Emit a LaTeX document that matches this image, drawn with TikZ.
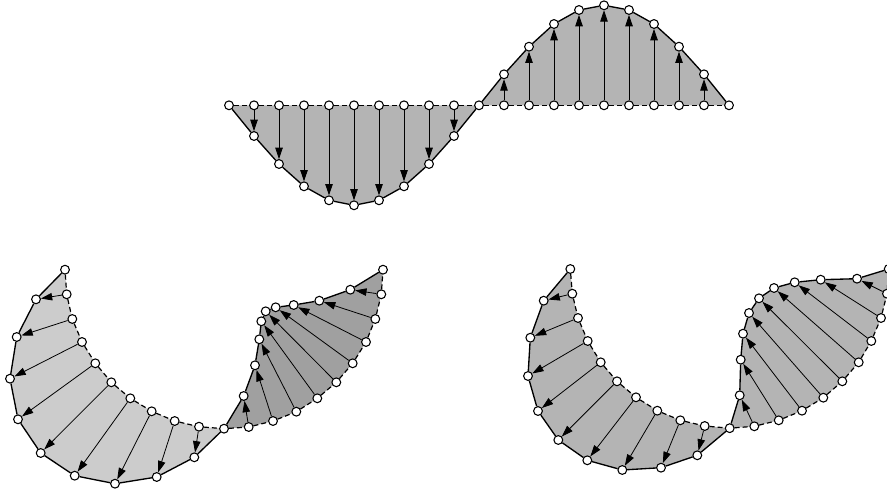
\documentclass[tikz,border=0pt]{standalone}
\usepackage{tikz}
\usetikzlibrary{arrows.meta, backgrounds}
\usepackage{xcolor}
\definecolor{MG}{RGB}{180,180,180}
\definecolor{LG}{RGB}{204,204,204}
\definecolor{DG}{RGB}{160,160,160}
\begin{document}
\begin{tikzpicture}[
  x=0.75pt, y=-0.75pt,
  pin/.style={draw=black, fill=white, circle, inner sep=0pt, line width=0.8pt, minimum size=6.6pt},
  conn/.style={draw=black, line width=0.6pt, -{Triangle[length=8.5pt,width=5.6pt]}},
  edge/.style={draw=black, line width=1pt},
  rest/.style={draw=black, line width=0.9pt, dash pattern=on 3.7pt off 2.3pt}
]
\useasboundingbox (0,0) rectangle (887,491);

% Upper wave
\node[pin] (w0) at (229,105.3) {};
\node[pin] (w1) at (254,105.3) {}; \node[pin] (v1) at (254,136) {};   \draw[conn] (w1)--(v1);
\node[pin] (w2) at (279,105.3) {}; \node[pin] (v2) at (279,164) {};   \draw[conn] (w2)--(v2);
\node[pin] (w3) at (304,105.3) {}; \node[pin] (v3) at (304,186.3) {}; \draw[conn] (w3)--(v3);
\node[pin] (w4) at (329,105.3) {}; \node[pin] (v4) at (329,200.3) {}; \draw[conn] (w4)--(v4);
\node[pin] (w5) at (354,105.3) {}; \node[pin] (v5) at (354,205.3) {}; \draw[conn] (w5)--(v5);
\node[pin] (w6) at (379,105.3) {}; \node[pin] (v6) at (379,200.3) {}; \draw[conn] (w6)--(v6);
\node[pin] (w7) at (404,105.3) {}; \node[pin] (v7) at (404,186.3) {}; \draw[conn] (w7)--(v7);
\node[pin] (w8) at (429,105.3) {}; \node[pin] (v8) at (429,164) {};   \draw[conn] (w8)--(v8);
\node[pin] (w9) at (454,105.3) {}; \node[pin] (v9) at (454,136) {};   \draw[conn] (w9)--(v9);
\node[pin] (w10) at (479,105.3) {};
\node[pin] (w11) at (504,105.3) {}; \node[pin] (v11) at (504,74.3) {}; \draw[conn] (w11)--(v11);
\node[pin] (w12) at (529,105.3) {}; \node[pin] (v12) at (529,46.7) {}; \draw[conn] (w12)--(v12);
\node[pin] (w13) at (554,105.3) {}; \node[pin] (v13) at (554,24) {};   \draw[conn] (w13)--(v13);
\node[pin] (w14) at (579,105.3) {}; \node[pin] (v14) at (579,10) {};   \draw[conn] (w14)--(v14);
\node[pin] (w15) at (604,105.3) {}; \node[pin] (v15) at (604,5.3) {};  \draw[conn] (w15)--(v15);
\node[pin] (w16) at (629,105.3) {}; \node[pin] (v16) at (629,10) {};   \draw[conn] (w16)--(v16);
\node[pin] (w17) at (654,105.3) {}; \node[pin] (v17) at (654,24) {};   \draw[conn] (w17)--(v17);
\node[pin] (w18) at (679,105.3) {}; \node[pin] (v18) at (679,46.7) {}; \draw[conn] (w18)--(v18);
\node[pin] (w19) at (704,105.3) {}; \node[pin] (v19) at (704,74.3) {}; \draw[conn] (w19)--(v19);
\node[pin] (w20) at (729,105.3) {};

% Lower left
\node[pin] (a0) at (65,269.7) {};
\node[pin] (a1) at (66.7,294.3) {}; \node[pin] (b1) at (36,299.3) {};   \draw[conn] (a1)--(b1);
\node[pin] (a2) at (72.3,319) {};   \node[pin] (b2) at (16.7,337) {};   \draw[conn] (a2)--(b2);
\node[pin] (a3) at (82,342) {};     \node[pin] (b3) at (10,378.7) {};   \draw[conn] (a3)--(b3);
\node[pin] (a4) at (95.3,363.3) {}; \node[pin] (b4) at (18,419.3) {};   \draw[conn] (a4)--(b4);
\node[pin] (a5) at (111.3,382.3) {}; \node[pin] (b5) at (40.7,453) {};  \draw[conn] (a5)--(b5);
\node[pin] (a6) at (130.3,398.3) {}; \node[pin] (b6) at (74.7,475.7) {}; \draw[conn] (a6)--(b6);
\node[pin] (a7) at (151.7,411.3) {}; \node[pin] (b7) at (115,483.7) {}; \draw[conn] (a7)--(b7);
\node[pin] (a8) at (174.7,421) {};  \node[pin] (b8) at (156.7,477) {};  \draw[conn] (a8)--(b8);
\node[pin] (a9) at (199,426.7) {};  \node[pin] (b9) at (194.3,457.3) {}; \draw[conn] (a9)--(b9);
\node[pin] (a10) at (224,428.7) {};
\node[pin] (a11) at (248.7,427) {}; \node[pin] (b11) at (243.7,396) {}; \draw[conn] (a11)--(b11);
\node[pin] (a12) at (273,421) {};   \node[pin] (b12) at (255,365.3) {}; \draw[conn] (a12)--(b12);
\node[pin] (a13) at (296.3,411.7) {}; \node[pin] (b13) at (259.3,339.3) {}; \draw[conn] (a13)--(b13);
\node[pin] (a14) at (317.3,398.3) {}; \node[pin] (b14) at (261.3,321.3) {}; \draw[conn] (a14)--(b14);
\node[pin] (a15) at (336.3,382.3) {}; \node[pin] (b15) at (265.7,311.3) {}; \draw[conn] (a15)--(b15);
\node[pin] (a16) at (352.7,363.3) {}; \node[pin] (b16) at (275.7,307.3) {}; \draw[conn] (a16)--(b16);
\node[pin] (a17) at (366,342) {};   \node[pin] (b17) at (293.7,305) {}; \draw[conn] (a17)--(b17);
\node[pin] (a18) at (375.3,319) {}; \node[pin] (b18) at (319.3,300.7) {}; \draw[conn] (a18)--(b18);
\node[pin] (a19) at (381.3,294.3) {}; \node[pin] (b19) at (350.3,289.7) {}; \draw[conn] (a19)--(b19);
\node[pin] (a20) at (383,269.7) {};

% Lower right
\node[pin] (c0) at (570.3,269) {};
\node[pin] (c1) at (572.3,293.7) {}; \node[pin] (d1) at (543.7,300.7) {}; \draw[conn] (c1)--(d1);
\node[pin] (c2) at (578,318) {};     \node[pin] (d2) at (530.3,337.7) {}; \draw[conn] (c2)--(d2);
\node[pin] (c3) at (587.7,341) {};   \node[pin] (d3) at (528,376) {};   \draw[conn] (c3)--(d3);
\node[pin] (c4) at (600.7,362.3) {}; \node[pin] (d4) at (538,411) {};   \draw[conn] (c4)--(d4);
\node[pin] (c5) at (617,381.3) {};   \node[pin] (d5) at (558.3,440) {}; \draw[conn] (c5)--(d5);
\node[pin] (c6) at (636,397.3) {};   \node[pin] (d6) at (587.3,460.3) {}; \draw[conn] (c6)--(d6);
\node[pin] (c7) at (657.3,410.7) {}; \node[pin] (d7) at (622.3,470) {}; \draw[conn] (c7)--(d7);
\node[pin] (c8) at (680.3,420.3) {}; \node[pin] (d8) at (661,467.7) {}; \draw[conn] (c8)--(d8);
\node[pin] (c9) at (704.7,426) {};   \node[pin] (d9) at (697.3,455.3) {}; \draw[conn] (c9)--(d9);
\node[pin] (c10) at (729.7,428.2) {};
\node[pin] (c11) at (754.3,426.3) {}; \node[pin] (d11) at (739.7,395.3) {}; \draw[conn] (c11)--(d11);
\node[pin] (c12) at (778.7,420.3) {}; \node[pin] (d12) at (740.7,359.7) {}; \draw[conn] (c12)--(d12);
\node[pin] (c13) at (802,410.7) {};   \node[pin] (d13) at (743,333.7) {}; \draw[conn] (c13)--(d13);
\node[pin] (c14) at (823.3,397.7) {}; \node[pin] (d14) at (749,313) {}; \draw[conn] (c14)--(d14);
\node[pin] (c15) at (842.3,381.3) {}; \node[pin] (d15) at (759,298.3) {}; \draw[conn] (c15)--(d15);
\node[pin] (c16) at (858.7,362.3) {}; \node[pin] (d16) at (774,288) {}; \draw[conn] (c16)--(d16);
\node[pin] (c17) at (871.3,341) {};   \node[pin] (d17) at (794.7,282.3) {}; \draw[conn] (c17)--(d17);
\node[pin] (c18) at (881,318) {};     \node[pin] (d18) at (820.7,279.7) {}; \draw[conn] (c18)--(d18);
\node[pin] (c19) at (887,293.7) {};   \node[pin] (d19) at (857,278.7) {}; \draw[conn] (c19)--(d19);
\node[pin] (c20) at (888.7,269) {};

% Outlines
\draw[edge] (w0)--(v1)--(v2)--(v3)--(v4)--(v5)--(v6)--(v7)--(v8)--(v9)--(w10)--(v11)--(v12)--(v13)--(v14)--(v15)--(v16)--(v17)--(v18)--(v19)--(w20);
\draw[rest] (w0)--(w1)--(w2)--(w3)--(w4)--(w5)--(w6)--(w7)--(w8)--(w9)--(w10)--(w11)--(w12)--(w13)--(w14)--(w15)--(w16)--(w17)--(w18)--(w19)--(w20);
\draw[edge] (a0)--(b1)--(b2)--(b3)--(b4)--(b5)--(b6)--(b7)--(b8)--(b9)--(a10)--(b11)--(b12)--(b13)--(b14)--(b15)--(b16)--(b17)--(b18)--(b19)--(a20);
\draw[rest] (a0)--(a1)--(a2)--(a3)--(a4)--(a5)--(a6)--(a7)--(a8)--(a9)--(a10)--(a11)--(a12)--(a13)--(a14)--(a15)--(a16)--(a17)--(a18)--(a19)--(a20);
\draw[edge] (c0)--(d1)--(d2)--(d3)--(d4)--(d5)--(d6)--(d7)--(d8)--(d9)--(c10)--(d11)--(d12)--(d13)--(d14)--(d15)--(d16)--(d17)--(d18)--(d19)--(c20);
\draw[rest] (c0)--(c1)--(c2)--(c3)--(c4)--(c5)--(c6)--(c7)--(c8)--(c9)--(c10)--(c11)--(c12)--(c13)--(c14)--(c15)--(c16)--(c17)--(c18)--(c19)--(c20);

% Shaded areas
\begin{scope}[on background layer]
  \fill[MG] (w0.center)--(v1.center)--(v2.center)--(v3.center)--(v4.center)--(v5.center)--(v6.center)--(v7.center)--(v8.center)--(v9.center)--(w10.center)--cycle;
  \fill[MG] (w10.center)--(v11.center)--(v12.center)--(v13.center)--(v14.center)--(v15.center)--(v16.center)--(v17.center)--(v18.center)--(v19.center)--(w20.center)--cycle;
  \fill[LG] (a0.center)--(b1.center)--(b2.center)--(b3.center)--(b4.center)--(b5.center)--(b6.center)--(b7.center)--(b8.center)--(b9.center)--(a10.center)--(a9.center)--(a8.center)--(a7.center)--(a6.center)--(a5.center)--(a4.center)--(a3.center)--(a2.center)--(a1.center)--cycle;
  \fill[DG] (a10.center)--(b11.center)--(b12.center)--(b13.center)--(b14.center)--(b15.center)--(b16.center)--(b17.center)--(b18.center)--(b19.center)--(a20.center)--(a19.center)--(a18.center)--(a17.center)--(a16.center)--(a15.center)--(a14.center)--(a13.center)--(a12.center)--(a11.center)--cycle;
  \fill[MG] (c0.center)--(d1.center)--(d2.center)--(d3.center)--(d4.center)--(d5.center)--(d6.center)--(d7.center)--(d8.center)--(d9.center)--(c10.center)--(c9.center)--(c8.center)--(c7.center)--(c6.center)--(c5.center)--(c4.center)--(c3.center)--(c2.center)--(c1.center)--cycle;
  \fill[MG] (c10.center)--(d11.center)--(d12.center)--(d13.center)--(d14.center)--(d15.center)--(d16.center)--(d17.center)--(d18.center)--(d19.center)--(c20.center)--(c19.center)--(c18.center)--(c17.center)--(c16.center)--(c15.center)--(c14.center)--(c13.center)--(c12.center)--(c11.center)--cycle;
\end{scope}
\end{tikzpicture}
\end{document}
